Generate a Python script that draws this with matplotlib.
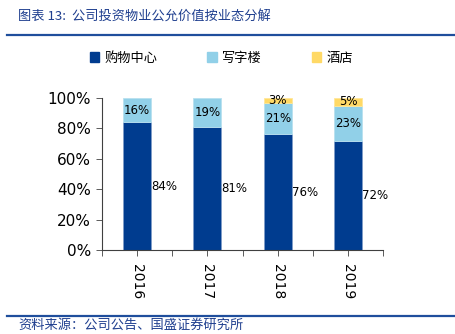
import matplotlib.pyplot as plt
import numpy as np
from matplotlib.lines import Line2D
from matplotlib.patches import Patch

plt.rcParams['font.family'] = ['DejaVu Sans', 'Noto Sans CJK SC']

years = ['2016', '2017', '2018', '2019']
mall = [84, 81, 76, 72]      # 购物中心
office = [16, 19, 21, 23]    # 写字楼
hotel = [0, 0, 3, 5]         # 酒店
series_names = ['购物中心', '写字楼', '酒店']

c_mall = '#003c8f'
c_office = '#91d0e8'
c_hotel = '#ffd966'
c_title = '#1f3f8f'

fig = plt.figure(figsize=(4.56, 3.34), dpi=100)
ax = fig.add_axes([0.2237, 0.2515, 0.6165, 0.4551])

x = np.arange(len(years))
width = 0.4
mall_f = np.array(mall) / 100
office_f = np.array(office) / 100
hotel_f = np.array(hotel) / 100

b1 = ax.bar(x, mall_f, width, color=c_mall, edgecolor='#7f9cc8', linewidth=0.6)
b2 = ax.bar(x, office_f, width, bottom=mall_f, color=c_office, edgecolor='#b8e0ef', linewidth=0.6)
b3 = ax.bar(x, hotel_f, width, bottom=mall_f + office_f, color=c_hotel, edgecolor='#ffe79a', linewidth=0.6)
# no outline for empty segments
for p in b3:
    if p.get_height() == 0:
        p.set_linewidth(0)

# value labels: mall share sits just right of the bar, others centred in their segment
for i in range(len(years)):
    ax.text(x[i] + width / 2, mall_f[i] / 2, f'{mall[i]}%', ha='left', va='center', fontsize=8.5)
    ax.text(x[i], mall_f[i] + office_f[i] / 2, f'{office[i]}%', ha='center', va='center', fontsize=8.5)
    if hotel[i] > 0:
        ax.text(x[i], mall_f[i] + office_f[i] + hotel_f[i] / 2, f'{hotel[i]}%',
                ha='center', va='center', fontsize=8.5)

ax.set_xlim(-0.5, len(years) - 0.5)
ax.set_ylim(0, 1)
ax.set_yticks(np.arange(0, 1.01, 0.2))
ax.set_yticklabels([f'{int(round(v * 100))}%' for v in np.arange(0, 1.01, 0.2)], fontsize=11)
ax.set_xticks(x)
ax.set_xticklabels(years, rotation=-90, fontsize=10)
ax.set_xticks(np.arange(-0.5, len(years), 1), minor=True)
ax.tick_params(axis='x', which='both', length=4, width=0.6, color='#404040', pad=6)
ax.tick_params(axis='y', length=4, width=0.6, color='#404040', pad=4)
for s in ['top', 'right']:
    ax.spines[s].set_visible(False)
for s in ['left', 'bottom']:
    ax.spines[s].set_color('#404040')
    ax.spines[s].set_linewidth(0.8)

handles = [Patch(color=c_mall), Patch(color=c_office), Patch(color=c_hotel)]
fig.legend(handles, series_names, loc='center', bbox_to_anchor=(0.485, 0.826), ncol=3,
           frameon=False, handlelength=0.7, handleheight=0.7,
           handletextpad=0.4, columnspacing=3.8, prop={'family': 'Noto Sans CJK SC', 'size': 9.5})

# header and footer
fig.text(0.04, 0.948, '图表 13:  公司投资物业公允价值按业态分解', color=c_title, fontsize=9.5,
         style='italic', va='center', family=['Noto Sans CJK SC', 'DejaVu Sans'])
fig.add_artist(Line2D([0.015, 0.998], [0.895, 0.895], color='#1f4e9c', linewidth=1.6))
fig.add_artist(Line2D([0.015, 0.998], [0.054, 0.054], color='#1f4e9c', linewidth=1.6))
fig.text(0.04, 0.027, '资料来源：公司公告、国盛证券研究所', color=c_title, fontsize=9.5,
         style='italic', va='center', family=['Noto Sans CJK SC', 'DejaVu Sans'])

fig.savefig('out.png', dpi=100)
